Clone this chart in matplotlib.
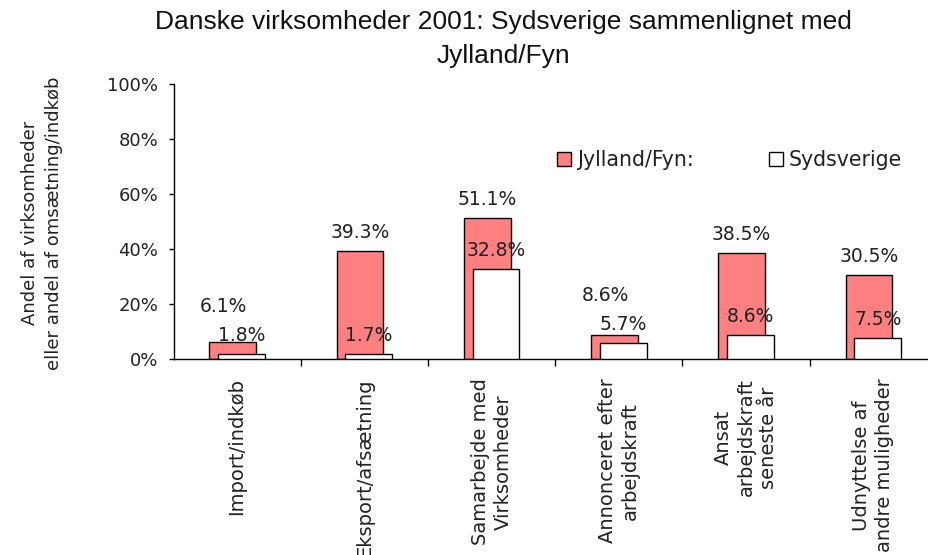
import numpy as np
import matplotlib
matplotlib.use("Agg")
import matplotlib.pyplot as plt

# data (percent)
categories = ["Import/indkøb", "Eksport/afsætning", "Samarbejde med\nVirksomheder",
              "Annonceret efter\narbejdskraft", "Ansat\narbejdskraft\nseneste år",
              "Udnyttelse af\nandre muligheder"]
jylland_fyn = [6.1, 39.3, 51.1, 8.6, 38.5, 30.5]
sydsverige = [1.8, 1.7, 32.8, 5.7, 8.6, 7.5]
series_names = ["Jylland/Fyn:", "Sydsverige"]

red = "#FF8080"
txt = "#222222"
plt.rcParams['font.family'] = ['DejaVu Sans']

fig = plt.figure(figsize=(9.29, 5.55), dpi=100)
ax = fig.add_axes([173.5/929, 196/555, 763.5/929, 275/555])

x = np.arange(len(categories))
w = 0.367
off = 0.035
ax.bar(x - off, jylland_fyn, w, color=red, edgecolor="black", linewidth=1.0,
       label=series_names[0], zorder=2)
ax.bar(x + off, sydsverige, w, color="white", edgecolor="black", linewidth=1.0,
       label=series_names[1], zorder=3)

# value labels, red ones pushed up when they would clash with the white ones
lab_off = 6.8
for i in range(len(x)):
    wy = sydsverige[i] + lab_off
    ry = jylland_fyn[i] + lab_off
    rx = x[i] - off
    if ry < wy + 10.5:
        ry = wy + 10.5
        rx = rx - 0.07
    ax.text(rx, ry, "%.1f%%" % jylland_fyn[i], ha="center", va="center",
            fontsize=13.5, color=txt, zorder=5)
    ax.text(x[i] + off, wy, "%.1f%%" % sydsverige[i], ha="center", va="center",
            fontsize=13.5, color=txt, zorder=5)

ax.set_xlim(-0.5, len(x) - 0.5)
ax.set_ylim(0, 100)
ax.set_yticks(np.arange(0, 101, 20))
ax.set_yticklabels(["%d%%" % v for v in range(0, 101, 20)])
ax.tick_params(axis="y", length=3.6, width=1, pad=7.5, labelsize=13, labelcolor=txt, color="black")

ax.set_xticks(x)
ax.set_xticklabels(categories, rotation=90, ha="center", va="top",
                   multialignment="center", fontsize=14, color=txt, linespacing=1.25)
ax.tick_params(axis="x", which="major", length=0, pad=14)
ax.set_xticks(np.arange(0.5, len(x) - 0.5, 1), minor=True)
ax.tick_params(axis="x", which="minor", length=5, width=1, color="black")

for s in ["top", "right"]:
    ax.spines[s].set_visible(False)
ax.spines["left"].set_linewidth(1)
ax.spines["bottom"].set_linewidth(1)

leg = ax.legend(loc="center left", bbox_to_anchor=(0.502, 0.724), ncol=2, frameon=False,
                fontsize=14.8, handlelength=0.68, handleheight=0.68, handletextpad=0.3,
                columnspacing=3.65, borderaxespad=0, borderpad=0)
for t in leg.get_texts():
    t.set_color(txt)

fig.text(42/929, 1 - 223/555, "Andel af virksomheder\neller andel af omsætning/indkøb",
         rotation=90, ha="center", va="center", multialignment="center",
         fontsize=13, color=txt, linespacing=1.4)

fig.text(503/929, 1 - 39/555, "Danske virksomheder 2001: Sydsverige sammenlignet med\nJylland/Fyn",
         ha="center", va="center", multialignment="center", fontsize=19,
         family=["Liberation Sans", "DejaVu Sans"],
         color="#111111", linespacing=1.55)

fig.savefig("out.png", dpi=100)
